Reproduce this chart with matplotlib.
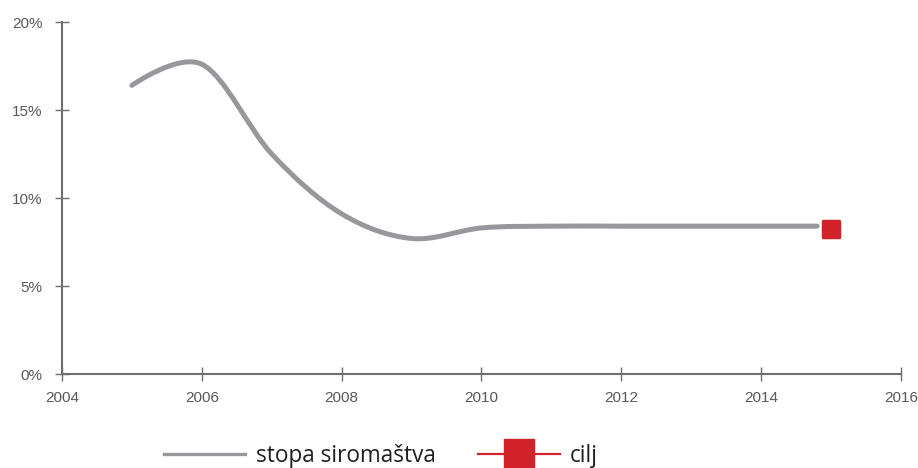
import matplotlib
matplotlib.use("Agg")
import matplotlib.pyplot as plt
from matplotlib.path import Path
from matplotlib.patches import PathPatch
from matplotlib.lines import Line2D
from matplotlib.markers import MarkerStyle
from matplotlib.ticker import FuncFormatter

# data
years = [2005, 2006, 2007, 2008, 2009, 2010, 2011, 2012, 2013, 2014, 2014.8]
rate = [16.4, 17.6, 12.5, 9.1, 7.7, 8.3, 8.4, 8.4, 8.4, 8.4, 8.4]
target_year = [2015]
target_rate = [8.25]
x_ticks = [2004, 2006, 2008, 2010, 2012, 2014, 2016]
y_ticks = [0, 5, 10, 15, 20]

grey = "#98989c"
red = "#d2232a"
axis_col = "#6d6e71"
text_col = "#58595b"


def spline_path(xs, ys):
    # smooth curve through the points, end segments start straight
    n = len(xs)
    verts = [(xs[0], ys[0])]
    codes = [Path.MOVETO]
    for i in range(n - 1):
        dx = (xs[i + 1] - xs[i]) / 3
        if i == 0:
            c1 = (xs[i], ys[i])
        else:
            s = (ys[i + 1] - ys[i - 1]) / (xs[i + 1] - xs[i - 1])
            c1 = (xs[i] + dx, ys[i] + s * dx)
        if i + 1 == n - 1:
            c2 = (xs[i + 1], ys[i + 1])
        else:
            s = (ys[i + 2] - ys[i]) / (xs[i + 2] - xs[i])
            c2 = (xs[i + 1] - dx, ys[i + 1] - s * dx)
        verts += [c1, c2, (xs[i + 1], ys[i + 1])]
        codes += [Path.CURVE4] * 3
    return Path(verts, codes)


fig = plt.figure(figsize=(9.18, 4.68), dpi=100)
ax = fig.add_axes([62 / 918, 94 / 468, 839 / 918, 352 / 468])

patch = PathPatch(spline_path(years, rate), facecolor="none", edgecolor=grey,
                  lw=3.6, capstyle="round", joinstyle="round")
ax.add_patch(patch)

ax.plot(target_year, target_rate, linestyle="none",
        marker=MarkerStyle("s", joinstyle="round"), markersize=11,
        markerfacecolor=red, markeredgecolor=red, markeredgewidth=2.5)

ax.set_xlim(2004, 2016)
ax.set_ylim(0, 20)
ax.set_xticks(x_ticks)
ax.set_yticks(y_ticks)
ax.yaxis.set_major_formatter(FuncFormatter(lambda v, p: f"{v:.0f}%"))

for side in ["top", "right"]:
    ax.spines[side].set_visible(False)
for side in ["left", "bottom"]:
    ax.spines[side].set_color(axis_col)
    ax.spines[side].set_linewidth(1.5)

ax.tick_params(axis="both", direction="inout", length=10, width=1,
               color=axis_col, labelcolor=text_col, labelsize=11)
ax.tick_params(axis="x", pad=7)
ax.tick_params(axis="y", pad=9)
for lbl in ax.get_xticklabels() + ax.get_yticklabels():
    lbl.set_fontfamily("Liberation Sans")

handles = [
    Line2D([], [], color=grey, lw=2.4),
    Line2D([], [], color=red, lw=1.6, marker="s", markersize=22,
           markerfacecolor=red, markeredgecolor=red),
]
fig.legend(handles, ["stopa siromaštva", "cilj"], loc="center",
           bbox_to_anchor=(381 / 918, 1 - 456 / 468), ncol=2, frameon=False,
           prop={"family": "Open Sans", "size": 16.3}, handlelength=3.6,
           handletextpad=0.45, columnspacing=1.9, labelcolor="#231f20")

fig.savefig("out.png", dpi=100)
